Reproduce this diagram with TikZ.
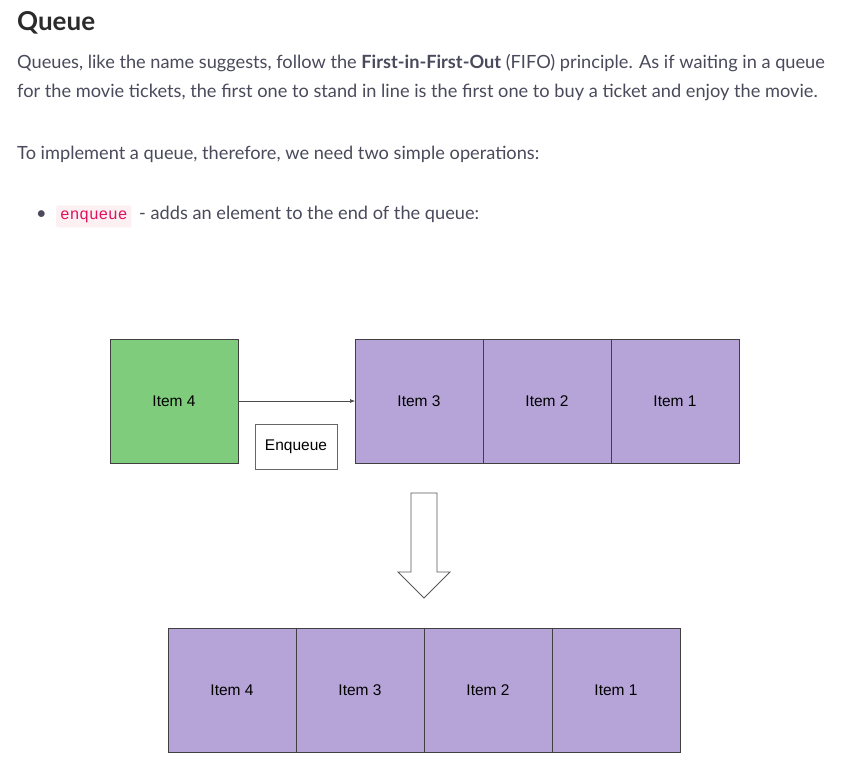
\documentclass[tikz,border=0pt]{standalone}
\usepackage{fontspec}
\setmainfont{Lato}
\newfontfamily\arialfont{Liberation Sans}
\newfontfamily\codefont{Liberation Mono}
\usepackage{xcolor}
\usetikzlibrary{arrows.meta, positioning}

\definecolor{bodygray}{HTML}{4A4A5C}
\definecolor{headgray}{HTML}{2B2B2B}
\definecolor{codered}{HTML}{E0115F}
\definecolor{codebg}{HTML}{FCF0F2}
\definecolor{itemgreen}{RGB}{127,204,125}
\definecolor{itempurple}{RGB}{182,163,216}

\begin{document}
\begin{tikzpicture}[
    x=1pt, y=-1pt,
    font=\fontsize{18.2}{22}\selectfont,
    text=bodygray,
    >=Latex,
    textline/.style={
        anchor=base west,
        inner sep=0pt
    },
    cell/.style={
        draw=black!75,
        line width=0.9pt,
        minimum width=128pt,
        minimum height=124pt,
        inner sep=0pt,
        outer sep=0pt,
        text=black,
        font=\arialfont\fontsize{15.5}{18}\selectfont
    },
    newitem/.style={
        cell,
        fill=itemgreen
    },
    queued/.style={
        cell,
        fill=itempurple
    },
    opbox/.style={
        draw=black!60,
        line width=0.7pt,
        minimum width=82pt,
        minimum height=45pt,
        inner sep=0pt,
        text=black,
        font=\arialfont\fontsize{15.5}{18}\selectfont
    },
    line/.style={
        -{Latex[length=5pt, width=4pt]},
        line width=0.6pt,
        draw=black!70
    }
]
\useasboundingbox[fill=white] (0,0) rectangle (847,769);

% Text above the picture
\node[textline, text=headgray, font=\fontsize{26}{30}\selectfont\bfseries] (title) at (17,30) {Queue};
\node[textline] (para1) at (17,68) {Queues, like the name suggests, follow the \textbf{First-in-First-Out} (FIFO) principle. As if waiting in a queue};
\node[textline] (para2) at (17,97) {for the movie tickets, the first one to stand in line is the first one to buy a ticket and enjoy the movie.};
\node[textline] (para3) at (17,159) {To implement a queue, therefore, we need two simple operations:};
\node[textline] (bullet) at (36,219) {\textbullet};
\node[anchor=base west, fill=codebg, rounded corners=2pt, inner xsep=4pt, inner ysep=5pt, text=codered, font=\codefont\fontsize{16}{18}\selectfont] (code) at (56,219) {enqueue};
\node[textline] (bullettext) at (139,219) {- adds an element to the end of the queue:};

% Row 1: new item and queue before
\node[newitem] (new4) at (174,401) {Item 4};
\node[queued] (top3) at (419,401) {Item 3};
\node[queued, right=0pt of top3] (top2) {Item 2};
\node[queued, right=0pt of top2] (top1) {Item 1};
\node[opbox] (enq) at (296,447) {Enqueue};

\draw[line] (new4) -- (top3);

% Hollow arrow
\coordinate (tip) at (424,598);
\draw[draw=black!65, line width=0.8pt, fill=white]
    (411,493) -- (437,493) -- (437,572) -- (450,572) -- (tip)
    -- (398,572) -- (411,572) -- cycle;

% Row 2: queue after
\node[queued] (bot4) at (232,690) {Item 4};
\node[queued, right=0pt of bot4] (bot3) {Item 3};
\node[queued, right=0pt of bot3] (bot2) {Item 2};
\node[queued, right=0pt of bot2] (bot1) {Item 1};

\end{tikzpicture}
\end{document}
